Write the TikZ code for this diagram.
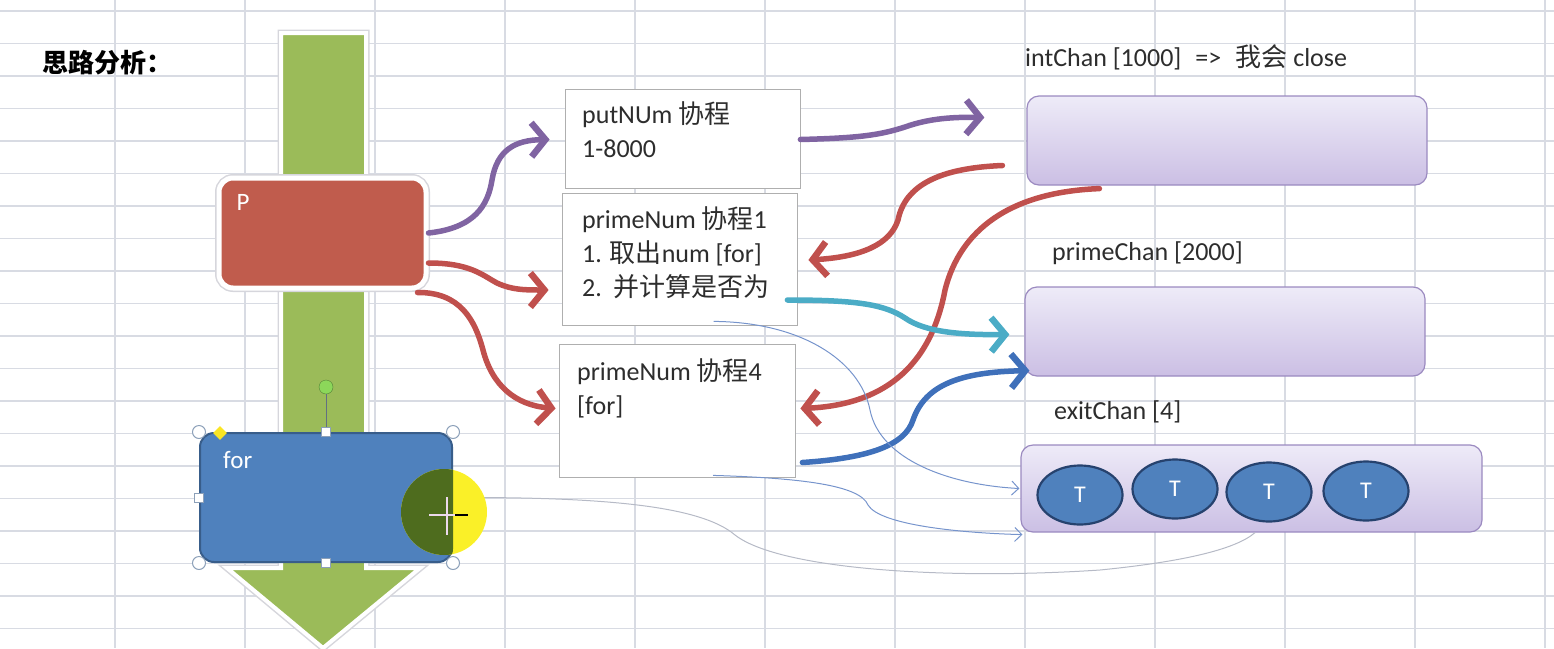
\documentclass[tikz,border=0pt]{standalone}
\usepackage{fontspec}
\setmainfont{Carlito}
\newfontfamily\zhfont{Noto Sans CJK SC}
\usepackage{xcolor}
\usepackage{tikz}
\usetikzlibrary{shapes.geometric, arrows.meta, positioning, calc}
\newcommand{\zh}[1]{{\zhfont #1}}

\definecolor{gridline}{RGB}{216,219,227}
\definecolor{arrowgreen}{RGB}{155,187,89}
\definecolor{edgegray}{RGB}{214,214,220}
\definecolor{pred}{RGB}{192,92,77}
\definecolor{flowred}{RGB}{192,80,77}
\definecolor{pblue}{RGB}{79,129,189}
\definecolor{pblueedge}{RGB}{56,93,138}
\definecolor{tokedge}{RGB}{38,66,110}
\definecolor{lavtop}{RGB}{238,235,248}
\definecolor{lavbot}{RGB}{203,191,228}
\definecolor{lavedge}{RGB}{155,138,192}
\definecolor{flowpurple}{RGB}{128,100,162}
\definecolor{flowcyan}{RGB}{75,172,198}
\definecolor{flowblue}{RGB}{63,112,186}
\definecolor{thinblue}{RGB}{118,148,204}
\definecolor{thingray}{RGB}{182,186,198}
\definecolor{boxgray}{RGB}{175,175,175}
\definecolor{inkgray}{RGB}{45,45,45}
\definecolor{handlegray}{RGB}{140,160,185}
\definecolor{rotgreen}{RGB}{140,215,90}
\definecolor{curyellow}{RGB}{250,240,40}
\definecolor{curgreen}{RGB}{78,108,30}

\begin{document}
\begin{tikzpicture}[x=1pt, y=-1pt,
    chan/.style={rectangle, rounded corners=12pt, draw=lavedge, line width=1.2pt, top color=lavtop, bottom color=lavbot, inner sep=0pt},
    task/.style={rectangle, draw=boxgray, line width=0.8pt, fill=white, inner sep=0pt},
    txt/.style={anchor=north west, inner sep=0pt, align=left, text=inkgray, font=\fontsize{26}{34}\selectfont},
    caption/.style={anchor=west, inner sep=0pt, text=inkgray, font=\fontsize{26}{30}\selectfont},
    inner/.style={anchor=north west, inner sep=0pt, text=white, font=\fontsize{25}{30}\selectfont},
    token/.style={ellipse, draw=tokedge, line width=2.2pt, fill=pblue, minimum width=85pt, minimum height=59pt, inner sep=0pt, text=white, font=\fontsize{24}{24}\selectfont},
    flow/.style={line width=5.5pt, line cap=round, -{Straight Barb[length=14pt, width=34pt, line width=6.5pt]}},
    thin/.style={line width=1pt, thinblue, -{Straight Barb[length=7pt, width=14pt]}},
    handle/.style={circle, draw=handlegray, fill=white, line width=1pt, minimum size=13pt, inner sep=0pt},
    grip/.style={rectangle, draw=handlegray, fill=white, line width=1pt, minimum size=9pt, inner sep=0pt}
  ]
    \useasboundingbox (0,0) rectangle (1554,648);

    % Sheet grid
    \foreach \gx in {115,245,...,1545}
      \draw[gridline, line width=1.5pt] (\gx,0) -- (\gx,648);
    \foreach \gy in {11,43.5,...,630}
      \draw[gridline, line width=1.5pt] (0,\gy) -- (1554,\gy);

    % Title
    \node[anchor=west, inner sep=0pt, font=\zhfont\bfseries\fontsize{26}{30}\selectfont] (title) at (42,63) {思路分析：};

    % Big down arrow
    \path[preaction={draw=edgegray, line width=7pt}, draw=white, line width=4pt, fill=arrowgreen]
      (281,33) -- (366,33) -- (366,568) -- (420,568) -- (323,648) -- (227,568) -- (281,568) -- cycle;

    % Main process
    \node[rectangle, rounded corners=14pt, fill=pred, draw=white, line width=5pt,
      preaction={draw=edgegray, line width=8pt},
      minimum width=207pt, minimum height=110pt] (P) at (322.5,233) {};
    \node[inner] (Plabel) at ($(P.north west)+(20,19)$) {P};

    % for loop box
    \node[rectangle, rounded corners=14pt, fill=pblue, draw=pblueedge, line width=2pt,
      minimum width=252pt, minimum height=129pt] (for) at (326,497.5) {};
    \node[inner] (forlabel) at ($(for.north west)+(24,19)$) {for};

    % Goroutines
    \node[task, minimum width=235pt, minimum height=99pt] (put) at (682.5,138.5) {};
    \node[txt] (putT) at (582,101) {putNUm \zh{协程}\\1-8000};
    \node[task, minimum width=235pt, minimum height=132pt] (pn1) at (679.5,259) {};
    \node[txt] (pn1T) at (582,206) {primeNum \zh{协程}1\\1. \zh{取出}num [for]\\2.\ \ \zh{并计算是否为}};
    \node[task, minimum width=236pt, minimum height=133pt] (pn4) at (677,410.5) {};
    \node[txt] (pn4T) at (577,358) {primeNum \zh{协程}4\\{}[for]};

    % Channels
    \node[caption] (intL) at (1025,57) {intChan [1000]\hspace{14pt}=>\hspace{14pt}\zh{我会} close};
    \node[chan, minimum width=400pt, minimum height=89pt] (intChan) at (1227,140.5) {};
    \node[caption] (primeL) at (1052,253) {primeChan [2000]};
    \node[chan, minimum width=400pt, minimum height=89pt] (primeChan) at (1225,331.5) {};
    \node[caption] (exitL) at (1054,412) {exitChan [4]};
    \node[chan, minimum width=461pt, minimum height=87pt] (exitChan) at (1251.5,488.5) {};
    \node[token] (t1) at (1080,495) {T};
    \node[token] (t2) at (1175,489) {T};
    \node[token] (t3) at (1269,492) {T};
    \node[token] (t4) at (1366,491) {T};

    % Thick flows
    \draw[flow, flowpurple] (P.east) .. controls (475,228) and (488,205) .. (492,180)
      .. controls (497,150) and (515,140) .. ($(put.west)+(-15,1)$);
    \draw[flow, flowpurple] ($(put.east)+(0,1)$) .. controls (860,138) and (880,135) .. (905,127)
      .. controls (930,118) and (955,117) .. ($(intChan.west)+(-42,-23)$);
    \draw[flow, flowred] ($(P.east)+(0,30)$) .. controls (470,263) and (482,275) .. (497,283)
      .. controls (512,290) and (525,290) .. ($(pn1.west)+(-13,31)$);
    \draw[flow, flowred] ($(P.south east)+(-11,2)$) .. controls (460,292) and (475,320) .. (483,350)
      .. controls (492,385) and (515,405) .. ($(pn4.west)+(-3,-2)$);
    \draw[flow, flowred] ($(intChan.west)+(-24,25)$) .. controls (940,168) and (905,185) .. (898,220)
      .. controls (890,245) and (860,257) .. ($(pn1.east)+(11,1)$);
    \draw[flow, flowred] ($(intChan.south west)+(73,3)$) .. controls (1010,192) and (960,230) .. (945,290)
      .. controls (930,370) and (880,405) .. ($(pn4.east)+(5,-2)$);
    \draw[flow, flowcyan] ($(pn1.east)+(-10,41)$) .. controls (860,300) and (885,305) .. (905,318)
      .. controls (925,332) and (960,335) .. ($(primeChan.west)+(-15,3)$);
    \draw[flow, flowblue] ($(pn4.east)+(7,52)$) .. controls (870,458) and (905,445) .. (913,420)
      .. controls (925,385) and (960,372) .. ($(primeChan.south west)+(5,-6)$);

    % Thin links
    \draw[thin] ($(pn1.south)+(34,-4)$) .. controls (800,322) and (860,360) .. (870,410)
      .. controls (880,460) and (950,485) .. ($(exitChan.west)+(-1,0)$);
    \draw[thin] ($(pn4.south)+(36,-2)$) .. controls (800,478) and (860,485) .. (868,505)
      .. controls (880,525) and (960,533) .. ($(exitChan.south west)+(2,2)$);
    \draw[thingray, line width=1pt] (for.east) .. controls (600,497) and (700,505) .. (735,535)
      .. controls (780,570) and (950,580) .. (1100,570)
      .. controls (1180,562) and (1235,550) .. ($(t3.south)+(-14,10)$);

    % Selection handles
    \foreach \c [count=\i] in {north west, north east, south west, south east}
      \node[handle] (h\i) at (for.\c) {};
    \foreach \c [count=\i] in {north, south, west, east}
      \node[grip] (g\i) at (for.\c) {};
    \node[circle, draw=rotgreen!60!black, fill=rotgreen, minimum size=14pt, inner sep=0pt] (rot) at ($(for.north)+(0,-45)$) {};
    \draw[handlegray!70!black, line width=1pt] (rot) -- (g1);
    \node[diamond, fill=curyellow!90!orange, minimum size=14pt, inner sep=0pt] (adj) at ($(for.north west)+(21,1)$) {};

    % Pointer highlight
    \fill[curyellow] (444,512) circle (43);
    \begin{scope}
      \clip[rounded corners=14pt] (for.north west) rectangle (for.south east);
      \fill[curgreen] (444,512) circle (43);
    \end{scope}
    \draw[white!85!violet, line width=2pt] (447,497) -- (447,535) (429,515) -- (462,515);
    \draw[black, line width=2.5pt] (455,515) -- (468,515);

  \end{tikzpicture}
\end{document}
